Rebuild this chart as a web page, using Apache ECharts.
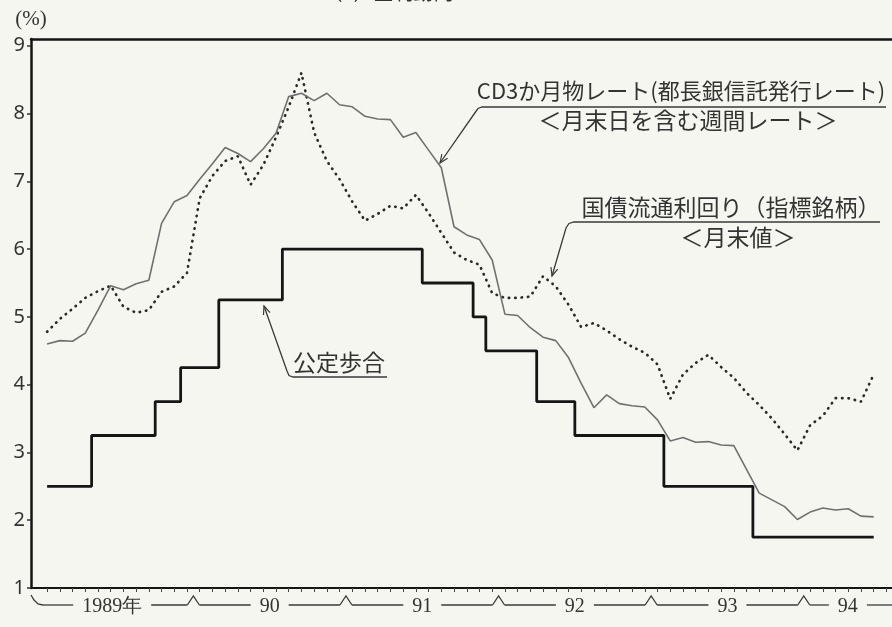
<!DOCTYPE html>
<html>
<head>
<meta charset="utf-8">
<script src="https://cdn.jsdelivr.net/npm/echarts@6/dist/echarts.min.js"></script>
<style>
html,body{margin:0;padding:0;background:#f6f6f1;}
#c{width:892px;height:627px;}
</style>
</head>
<body>
<div id="c"></div>
<script>
// ---- data (monthly, Jan 1989 – Jun 1994) ----
const months = [];
for (let y = 1989; y <= 1994; y++) {
  for (let m = 1; m <= 12; m++) {
    if (months.length < 66) months.push(y + '-' + String(m).padStart(2, '0'));
  }
}
// CD 3-month rate (weekly rate of week including month-end)
const cdRate = [
  4.60,4.65,4.64,4.76,5.10,5.46,5.40,5.49,5.54,6.38,6.70,6.79,
  7.03,7.26,7.50,7.41,7.29,7.48,7.71,8.25,8.30,8.19,8.30,8.13,
  8.10,7.96,7.92,7.91,7.65,7.72,7.46,7.20,6.33,6.21,6.14,5.84,
  5.04,5.02,4.84,4.70,4.65,4.40,4.02,3.66,3.85,3.72,3.69,3.67,
  3.48,3.17,3.22,3.15,3.16,3.11,3.10,2.75,2.40,2.30,2.20,2.01,
  2.12,2.18,2.15,2.17,2.06,2.05
];
// Government bond yield (benchmark issue, month-end)
const jgbYield = [
  4.78,4.97,5.12,5.28,5.38,5.46,5.15,5.06,5.10,5.37,5.45,5.65,
  6.75,7.08,7.30,7.37,6.95,7.24,7.65,8.10,8.60,7.72,7.30,7.03,
  6.70,6.42,6.52,6.64,6.60,6.80,6.53,6.24,5.95,5.84,5.77,5.35,
  5.28,5.28,5.30,5.60,5.45,5.18,4.85,4.91,4.80,4.67,4.56,4.47,
  4.30,3.79,4.15,4.32,4.44,4.26,4.10,3.88,3.70,3.50,3.27,3.03,
  3.40,3.54,3.80,3.80,3.75,4.15
];
// Official discount rate
const discountRate = [
  2.5,2.5,2.5,2.5,3.25,3.25,3.25,3.25,3.25,3.75,3.75,4.25,
  4.25,4.25,5.25,5.25,5.25,5.25,5.25,6.0,6.0,6.0,6.0,6.0,
  6.0,6.0,6.0,6.0,6.0,6.0,5.5,5.5,5.5,5.5,5.0,4.5,
  4.5,4.5,4.5,3.75,3.75,3.75,3.25,3.25,3.25,3.25,3.25,3.25,
  3.25,2.5,2.5,2.5,2.5,2.5,2.5,2.5,1.75,1.75,1.75,1.75,
  1.75,1.75,1.75,1.75,1.75,1.75
];
const yTicks = [1,2,3,4,5,6,7,8,9];
const yearLabels = ['1989年','90','91','92','93','94'];

// ---- chart ----
const X_MIN = -1.267, X_MAX = 66.44;
const monthTicks = months.map((_, i) => i).concat([months.length]);
const ink = '#151515', grayText = '#333';

const chart = echarts.init(document.getElementById('c'));
const pairs = arr => arr.map((v, i) => [i, v]);

chart.setOption({
  backgroundColor: '#f6f6f1',
  animation: false,
  grid: { left: 31, right: -5, top: 39, bottom: 39, containLabel: false },
  xAxis: [
    {
      type: 'value', min: X_MIN, max: X_MAX, position: 'bottom',
      axisLine: { show: true, onZero: false, lineStyle: { color: ink, width: 2 } },
      axisTick: { show: true, customValues: monthTicks, length: 4, lineStyle: { color: '#444', width: 1 } },
      axisLabel: { show: false },
      splitLine: { show: false }
    },
    {
      type: 'value', min: X_MIN, max: X_MAX, position: 'top',
      axisLine: { show: true, onZero: false, lineStyle: { color: ink, width: 2.5 } },
      axisTick: { show: false }, axisLabel: { show: false }, splitLine: { show: false }
    }
  ],
  yAxis: {
    type: 'value', min: 1, max: 9.1,
    axisLine: { show: true, onZero: false, lineStyle: { color: ink, width: 2.5 } },
    axisTick: { show: true, customValues: yTicks, length: 4, lineStyle: { color: '#333', width: 1.5 } },
    axisLabel: { customValues: yTicks, margin: 6, fontSize: 20, color: grayText, fontFamily: 'Noto Sans' },
    splitLine: { show: false }
  },
  series: [
    {
      name: 'CD3か月物レート', type: 'line', data: pairs(cdRate), symbol: 'none', z: 3,
      lineStyle: { color: '#707070', width: 1.6 }
    },
    {
      name: '国債流通利回り', type: 'line', data: pairs(jgbYield), symbol: 'none', z: 2,
      lineStyle: { color: '#2a2a2a', width: 2.7, type: [0.4, 6], cap: 'round' }
    },
    {
      name: '公定歩合', type: 'line', step: 'middle', data: pairs(discountRate), symbol: 'none', z: 4,
      lineStyle: { color: ink, width: 2.8 }
    }
  ]
});

// ---- decorations: year brackets under axis, callouts ----
const ctx = document.createElement('canvas').getContext('2d');
function textW(t, font) { ctx.font = font; return ctx.measureText(t).width; }
const stroke = '#3a3a3a';
function line(points, w) {
  return { type: 'polyline', silent: true, shape: { points }, style: { stroke, lineWidth: w || 1.3, fill: null } };
}
function text(t, x, y, font, align) {
  return { type: 'text', silent: true, x, y,
    style: { text: t, font, fill: grayText, align: align || 'center', verticalAlign: 'middle',
             textAlign: align || 'center', textVerticalAlign: 'middle' } };
}
function arrowHead(tip, from, len, ang) {
  len = len || 9; ang = ang || 0.4;
  const dx = from[0] - tip[0], dy = from[1] - tip[1], L = Math.hypot(dx, dy);
  const ux = dx / L, uy = dy / L;
  const r = a => [tip[0] + len * (ux * Math.cos(a) - uy * Math.sin(a)), tip[1] + len * (ux * Math.sin(a) + uy * Math.cos(a))];
  return line([r(ang), tip, r(-ang)], 1.2);
}

const px = v => chart.convertToPixel({ xAxisIndex: 0 }, v);
const py = v => chart.convertToPixel({ yAxisIndex: 0 }, v);
const els = [];

// unit label
els.push(text('(%)', px(X_MIN), 19, '21px "Liberation Serif"'));

// year brackets
const baseY = py(1);
const ly = baseY + 17, capTop = baseY + 8, capHalf = 6, gap = 9;
const yearFont = '20px "Liberation Serif"';
const bounds = [];
for (let i = 1; i < months.length; i++) {
  if (months[i].slice(0, 4) !== months[i - 1].slice(0, 4)) bounds.push(px(i - 0.5));
}
const x0 = px(X_MIN), xEnd = chart.getWidth() + 2;
els.push(line([[x0, baseY + 7], [x0 + 3, baseY + 12], [x0 + 7, ly - 1], [x0 + 12, ly]]));
const segL = [x0 + 12].concat(bounds.map(b => b + capHalf));
const segR = bounds.map(b => b - capHalf).concat([xEnd]);
const centers = [];
for (let k = 0; k < yearLabels.length; k++) {
  const left = k === 0 ? x0 : bounds[k - 1];
  const right = k < bounds.length ? bounds[k] : chart.getWidth();
  centers.push((left + right) / 2);
}
yearLabels.forEach((t, k) => {
  const w = textW(t, yearFont), c = centers[k];
  els.push(text(t, c, ly + 2, yearFont));
  els.push(line([[segL[k], ly], [c - w / 2 - gap, ly]]));
  els.push(line([[c + w / 2 + gap, ly], [segR[k], ly]]));
});
bounds.forEach(b => els.push(line([[b - capHalf, ly], [b, capTop], [b + capHalf, ly]])));

// callouts
const jp = s => s + 'px "Noto Sans CJK JP"';
// CD
els.push(text('CD3か月物レート(都長銀信託発行レート)', 681, 91, jp(22)));
els.push(text('＜月末日を含む週間レート＞', 688, 120, jp(23)));
els.push(line([[886, 107], [482, 107], [478, 108.5], [475.5, 112], [440, 163]]));
els.push(arrowHead([440, 163], [475.5, 112]));
// JGB
els.push(text('国債流通利回り（指標銘柄）', 731, 207, jp(23)));
els.push(text('＜月末値＞', 738, 237, jp(23)));
els.push(line([[880, 222], [574, 222], [569, 223.5], [566, 228], [552, 276]]));
els.push(arrowHead([552, 276], [566, 228]));
// discount rate
els.push(text('公定歩合', 339, 362, jp(23)));
els.push(line([[387, 377], [293, 377], [289, 375.5], [287, 371], [264, 306]]));
els.push(arrowHead([264, 306], [287, 371]));
// cut-off title at top edge
els.push(text('（1）金利動向', 388, -8, jp(20)));

chart.setOption({ graphic: els });
</script>
</body>
</html>
